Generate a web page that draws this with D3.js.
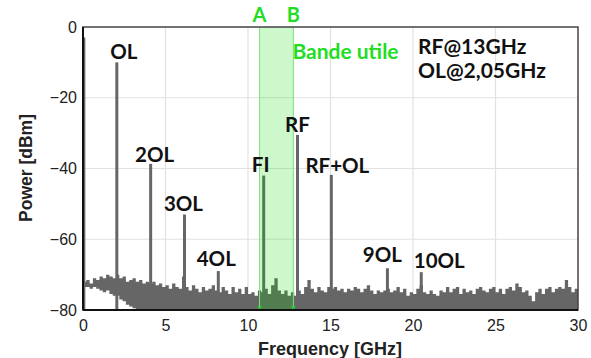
<!DOCTYPE html>
<html>
<head>
<meta charset="utf-8">
<script src="https://cdn.jsdelivr.net/npm/d3@7"></script>
<style>
  html, body { margin: 0; padding: 0; background: #fff; }
  svg { display: block; }
</style>
</head>
<body>
<svg id="chart" width="591" height="358"></svg>
<script>
// ---------------- data ----------------
const xTicks = [0, 5, 10, 15, 20, 25, 30];
const yTicks = [0, -20, -40, -60, -80];

// spectral lines (GHz, dBm) with labels
const peakFreq  = [0.05, 2.05, 4.1, 6.15, 8.2, 10.95, 13.0, 15.05, 18.45, 20.5];
const peakPower = [-3, -10, -38.7, -53, -69, -42, -30.5, -41.8, -68.2, -69.3];
const peakLabel = ["", "OL", "2OL", "3OL", "4OL", "FI", "RF", "RF+OL", "9OL", "10OL"];

// noise floor: bins of 0.2 GHz starting at 0 GHz (upper envelope, dBm)
const noiseStep = 0.2;
const noiseMax = [
  -72, -71.5, -72.5, -71, -71.5,   -70.5, -71, -70, -70.5, -71,
  -70, -71, -70.5, -72, -71.5,     -71, -72, -71.5, -72.5, -72,
  -72.5, -72, -73, -72.5, -73.5,   -73, -74, -72.5, -73.5, -74,
  -70.5, -73.5, -74.5, -73, -74,   -75, -73.5, -74.5, -74, -73,
  -74.5, -75, -73.5, -74.5, -75.5, -73.5, -75, -74, -75.5, -73.5,
  -75.5, -75, -76, -74.5, -75,     -74, -75.5, -73, -71, -74.5,
  -75.5, -74.5, -76, -75, -76,     -74.5, -75.5, -73.5, -71.5, -74,
  -75, -73.5, -74.5, -75, -73.5,   -74, -73.5, -74.5, -74, -75,
  -74, -74.5, -73.5, -74, -75,     -74, -73, -74.5, -75.5, -74.5,
  -75, -74.5, -74, -75, -74.5,     -73.5, -75, -74, -76, -75,
  -75.5, -74, -73, -75, -75.5,     -74.5, -75.5, -76, -74.5, -75,
  -73.5, -75, -74, -73.5, -75.5,   -74, -75, -74.5, -75.5, -74,
  -73.5, -74.5, -75, -74, -73.5,   -75, -74, -75.5, -74, -73.5,
  -74.5, -72.5, -73.5, -75, -74.5, -76, -77.5, -75, -74, -75.5,
  -74, -73.5, -75, -74, -73.5,     -74, -71.5, -73.5, -75, -74
];
// lower envelope of the trace at low frequencies (beyond, the trace reaches the axis floor)
const noiseMin = [
  -73.5, -73.5, -74, -73.5, -74,   -74.5, -75, -74.5, -75.5, -76,
  -76, -77, -77.5, -78.5, -79,     -79.5
];

// useful band
const bandStart = 10.7;
const bandEnd = 12.75;
const bandTitle = "Bande utile";
const infoLines = ["RF@13GHz", "OL@2,05GHz"];

// ---------------- layout ----------------
const svg = d3.select("#chart");
const m = { left: 83, right: 578, top: 27, bottom: 310 };
const x = d3.scaleLinear().domain([0, 30]).range([m.left, m.right]);
const y = d3.scaleLinear().domain([-80, 0]).range([m.bottom, m.top]);

const labelFont = "Lato, 'Open Sans', sans-serif";
const tickFont = "'Liberation Sans', Arial, sans-serif";

// grid
const grid = svg.append("g");
grid.selectAll("line.vx").data(xTicks.slice(1, -1)).enter().append("line")
  .attr("x1", d => x(d)).attr("x2", d => x(d))
  .attr("y1", m.top).attr("y2", m.bottom)
  .attr("stroke", "#e2e2e2").attr("stroke-width", 1.2);
grid.selectAll("line.hy").data(yTicks.slice(1, -1)).enter().append("line")
  .attr("x1", m.left).attr("x2", m.right)
  .attr("y1", d => y(d)).attr("y2", d => y(d))
  .attr("stroke", "#e2e2e2").attr("stroke-width", 1.2);

// noise floor
const noiseData = noiseMax.map((v, i) => ({
  f0: i * noiseStep,
  f1: Math.min(30, (i + 1) * noiseStep),
  hi: v,
  lo: i < noiseMin.length ? noiseMin[i] : y.domain()[0]
}));
const pts = [];
noiseData.forEach(d => { pts.push({ f: d.f0, hi: d.hi, lo: d.lo }); pts.push({ f: d.f1, hi: d.hi, lo: d.lo }); });
const area = d3.area().x(d => x(d.f)).y0(d => y(d.lo)).y1(d => y(d.hi));
svg.append("path").datum(pts).attr("d", area).attr("fill", "#666");

// spectral lines
svg.append("g").selectAll("line").data(peakFreq).enter().append("line")
  .attr("x1", d => x(d)).attr("x2", d => x(d))
  .attr("y1", y(-80)).attr("y2", (d, i) => y(peakPower[i]))
  .attr("stroke", "#666").attr("stroke-width", 3);

// band
svg.append("rect")
  .attr("x", x(bandStart)).attr("y", m.top)
  .attr("width", x(bandEnd) - x(bandStart)).attr("height", m.bottom - m.top)
  .attr("fill", "rgb(0,220,0)").attr("fill-opacity", 0.2);
[bandStart, bandEnd].forEach((f, i) => {
  svg.append("line").attr("x1", x(f)).attr("x2", x(f)).attr("y1", m.top).attr("y2", m.bottom)
    .attr("stroke", "#7fe07f").attr("stroke-width", 1);
  svg.append("path")
    .attr("d", `M${x(f) - 2.5},${m.bottom - 4} L${x(f) + 2.5},${m.bottom - 4} L${x(f)},${m.bottom} Z`)
    .attr("fill", "#2ecc2e");
  svg.append("text").attr("x", x(f)).attr("y", 22).attr("text-anchor", "middle")
    .attr("font-family", labelFont).attr("font-weight", 700).attr("font-size", 20)
    .attr("fill", "#22dd22").text(i === 0 ? "A" : "B");
});
svg.append("text").attr("x", x(bandEnd) - 1).attr("y", 59)
  .attr("font-family", labelFont).attr("font-weight", 700).attr("font-size", 21)
  .attr("fill", "#22dd22").text(bandTitle);

// frame
svg.append("rect").attr("x", m.left).attr("y", m.top)
  .attr("width", m.right - m.left).attr("height", m.bottom - m.top)
  .attr("fill", "none").attr("stroke", "#444").attr("stroke-width", 1.5);
svg.append("line").attr("x1", m.left).attr("x2", m.left).attr("y1", m.top).attr("y2", m.bottom)
  .attr("stroke", "#111").attr("stroke-width", 2);
svg.append("line").attr("x1", m.left).attr("x2", m.right).attr("y1", m.bottom).attr("y2", m.bottom)
  .attr("stroke", "#111").attr("stroke-width", 2);

// axes (labels only)
const xAxis = d3.axisBottom(x).tickValues(xTicks).tickSize(0).tickPadding(10);
const gx = svg.append("g").attr("transform", `translate(0,${m.bottom})`).call(xAxis);
gx.select(".domain").remove();
gx.selectAll("text").attr("font-family", tickFont).attr("font-size", 16).attr("fill", "#222");

const yAxis = d3.axisLeft(y).tickValues(yTicks).tickSize(0).tickPadding(6);
const gy = svg.append("g").attr("transform", `translate(${m.left},0)`).call(yAxis);
gy.select(".domain").remove();
gy.selectAll("text").attr("font-family", tickFont).attr("font-size", 16).attr("fill", "#222");

// axis titles
svg.append("text").attr("x", 330).attr("y", 355).attr("text-anchor", "middle")
  .attr("font-family", tickFont).attr("font-weight", 700).attr("font-size", 18).attr("fill", "#222")
  .text("Frequency [GHz]");
svg.append("text").attr("transform", `translate(32,168) rotate(-90)`)
  .attr("text-anchor", "middle")
  .attr("font-family", tickFont).attr("font-weight", 700).attr("font-size", 17.5).attr("fill", "#222")
  .text("Power [dBm]");

// peak labels
const labelDx = [0, 7, 4, -1, -2, -3, 0, 6, -5, 18];
const labelDy = [0, -3, -2, -3, -5, -4, -3, -2, -6, -4];
svg.append("g").selectAll("text").data(peakLabel).enter().append("text")
  .filter(d => d !== "")
  .attr("x", (d) => { const i = peakLabel.indexOf(d); return x(peakFreq[i]) + labelDx[i]; })
  .attr("y", (d) => { const i = peakLabel.indexOf(d); return y(peakPower[i]) + labelDy[i]; })
  .attr("text-anchor", "middle")
  .attr("font-family", labelFont).attr("font-weight", 700).attr("font-size", 20.5)
  .attr("fill", "#111").text(d => d);

// info text
infoLines.forEach((t, i) => {
  svg.append("text").attr("x", 418).attr("y", 54 + i * 24)
    .attr("font-family", labelFont).attr("font-weight", 700).attr("font-size", 21)
    .attr("fill", "#111").text(t);
});
</script>
</body>
</html>
